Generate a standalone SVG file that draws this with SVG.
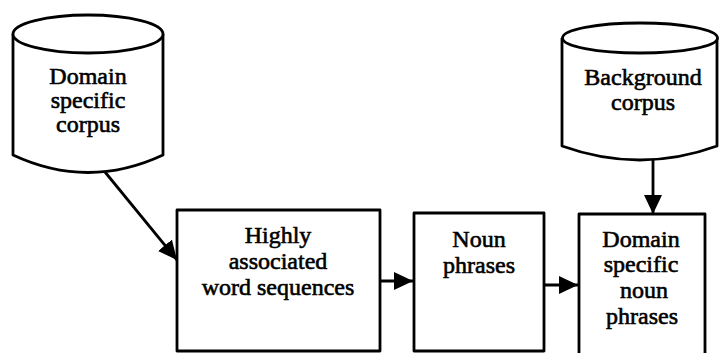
<svg xmlns="http://www.w3.org/2000/svg" width="721" height="353" viewBox="0 0 721 353">
<defs>
<style>
.s{fill:#fff;stroke:#000;stroke-width:2.8;stroke-linejoin:round}
.t{font-family:"Liberation Serif","Times New Roman",serif;font-size:24px;fill:#000;stroke:#000;stroke-width:0.6;text-anchor:middle}
.c{fill:none;stroke:#000;stroke-width:2.8}
</style>
<marker id="ah" markerUnits="userSpaceOnUse" markerWidth="22" markerHeight="18" refX="19" refY="9" orient="auto">
<path d="M0,0 L19,9 L0,18 Z" fill="#000"/>
</marker>
</defs>
<rect width="721" height="353" fill="#fff"/>
<g id="domain-corpus">
<path class="s" d="M13,34 L13,155 Q88,190 163,155 L163,34"/>
<ellipse class="s" cx="88" cy="34" rx="75" ry="19"/>
<text class="t" x="88" y="84">Domain</text>
<text class="t" x="88" y="108">specific</text>
<text class="t" x="88" y="132">corpus</text>
</g>
<g id="background-corpus">
<path class="s" d="M562,38 L562,146 Q640,174 717,146 L717,38"/>
<ellipse class="s" cx="640" cy="38" rx="77.5" ry="15"/>
<text class="t" x="643" y="85">Background</text>
<text class="t" x="643" y="110">corpus</text>
</g>
<g id="highly-associated">
<rect class="s" x="177" y="210" width="203" height="141"/>
<text class="t" x="278" y="243">Highly</text>
<text class="t" x="278" y="269">associated</text>
<text class="t" x="278" y="295">word sequences</text>
</g>
<g id="noun-phrases">
<rect class="s" x="414" y="213" width="130" height="138"/>
<text class="t" x="479" y="247">Noun</text>
<text class="t" x="479" y="273">phrases</text>
</g>
<g id="domain-noun-phrases">
<path class="s" d="M579,360 L579,214 L705,214 L705,360"/>
<text class="t" x="641" y="247">Domain</text>
<text class="t" x="641" y="272">specific</text>
<text class="t" x="644" y="298">noun</text>
<text class="t" x="642" y="324">phrases</text>
</g>
<g id="connectors">
<line class="c" x1="105" y1="172" x2="177" y2="260" marker-end="url(#ah)"/>
<line class="c" x1="380" y1="281" x2="413" y2="281" marker-end="url(#ah)"/>
<line class="c" x1="544" y1="285" x2="578" y2="285" marker-end="url(#ah)"/>
<line class="c" x1="653" y1="160" x2="653" y2="214" marker-end="url(#ah)"/>
</g>
</svg>
